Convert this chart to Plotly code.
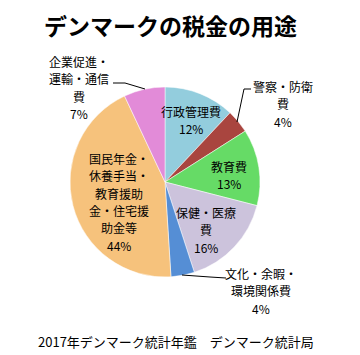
import plotly.graph_objects as go

categories = ["行政管理費", "警察・防衛費", "教育費", "保健・医療費",
              "文化・余暇・環境関係費", "国民年金・休養手当・教育援助金・住宅援助金等",
              "企業促進・運輸・通信費"]
values = [12, 4, 13, 16, 4, 44, 7]
label_lines = [["行政管理費"], ["警察・防衛", "費"], ["教育費"], ["保健・医療", "費"],
               ["文化・余暇・", "環境関係費"],
               ["国民年金・", "休養手当・", "教育援助", "金・住宅援", "助金等"],
               ["企業促進・", "運輸・通信", "費"]]
colors = ["#93CDDD", "#A9453F", "#66DB66", "#CCC3DC", "#558ED5", "#F6C27C", "#E28BD8"]

W, H = 360, 355
OX, OY = 8, 8  # page body margin compensation
FONT = "Noto Sans CJK JP"


def px(x):
    return (x - OX) / W


def py(y):
    return 1 - (y - OY) / H


# label block: centre x and y of first line (pixels), line step
label_pos = [(191, 111), (283, 86), (229, 166), (206, 212), (261, 273), (119, 158), (79, 61)]
STEP = 17.5

fig = go.Figure(go.Pie(
    labels=categories, values=values, sort=False, direction="clockwise",
    marker=dict(colors=colors, line=dict(color="white", width=0.5)),
    textinfo="none", hoverinfo="label+percent", showlegend=False,
    domain=dict(x=[px(165 - 95), px(165 + 95)], y=[py(277), py(87)]),
))

annotations = []
for lines, v, (lx, ly) in zip(label_lines, values, label_pos):
    rows = lines + [f"{v}%"]
    for i, t in enumerate(rows):
        annotations.append(dict(
            x=px(lx), y=py(ly + i * STEP), xref="paper", yref="paper",
            xanchor="center", yanchor="middle", showarrow=False, borderpad=0,
            text=t, font=dict(family=FONT, size=12, color="#000000"),
        ))

annotations.append(dict(x=px(170), y=py(25), xref="paper", yref="paper",
                        xanchor="center", yanchor="middle",
                        text="<b>デンマークの税金の用途</b>", showarrow=False,
                        font=dict(family=FONT, size=23, color="#000000")))
annotations.append(dict(x=px(176), y=py(341), xref="paper", yref="paper",
                        xanchor="center", yanchor="middle",
                        text="2017年デンマーク統計年鑑　デンマーク統計局", showarrow=False,
                        font=dict(family=FONT, size=13, color="#000000")))

leaders = [
    [(113, 83), (125, 83), (145, 89)],
    [(251, 89), (244, 89), (237, 122)],
    [(182, 275), (210, 277), (226, 278)],
]
shapes = []
for pts in leaders:
    path = "M " + " L ".join(f"{px(x)} {py(y)}" for x, y in pts)
    shapes.append(dict(type="path", path=path, xref="paper", yref="paper",
                       line=dict(color="#000000", width=1)))

fig.update_layout(width=W, height=H, margin=dict(l=0, r=0, t=0, b=0),
                  paper_bgcolor="white", plot_bgcolor="white",
                  annotations=annotations, shapes=shapes)
fig.write_html("out.html")
